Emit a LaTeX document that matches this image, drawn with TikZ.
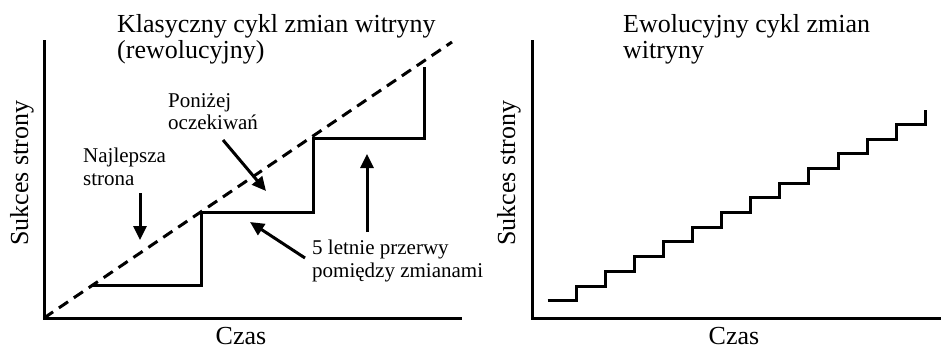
\documentclass[tikz,border=0pt]{standalone}
\usepackage{fontspec}
\setmainfont{Liberation Serif}
\usetikzlibrary{arrows.meta}
\begin{document}
\begin{tikzpicture}[x=1pt,y=-1pt,
  axis/.style={line width=3pt,line join=miter},
  stair/.style={line width=3pt,line join=miter},
  ideal/.style={line width=3pt,dash pattern=on 11pt off 7pt},
  pointer/.style={line width=3pt,-{Triangle[length=14pt,width=13pt]}},
  big/.style={font=\fontsize{26}{26.5}\selectfont,inner sep=0pt,align=left},
  note/.style={font=\fontsize{21}{22.5}\selectfont,inner sep=0pt,align=left,anchor=north west}]
\useasboundingbox (0,0) rectangle (942,348);
% left: classic cycle
\node[big,anchor=north west] (titleL) at (117,14) {Klasyczny cykl zmian witryny\\(rewolucyjny)};
\node[big,rotate=90] (yL) at (22,173) {Sukces strony};
\node[big,anchor=base] (xL) at (241,344) {Czas};
\coordinate (oL) at (44,318);
\draw[axis] (44,40) -- (oL) -- (462,318);
\draw[ideal] (oL) -- (452,42);
\draw[stair] (93.3,285.7) -- (201.7,285.7) -- (201.7,212.3) -- (313.3,212.3)
  -- (313.3,138.3) -- (424.3,138.3) -- (424.3,66.7);
\node[note] (best) at (83,148) {Najlepsza\\strona};
\node[note] (below) at (168,93) {Poniżej\\oczekiwań};
\node[note] (gap) at (312,240) {5 letnie przerwy\\pomiędzy zmianami};
\coordinate (best tail) at (140,193);
\coordinate (best tip) at (140,240);
\coordinate (below tail) at (223,140);
\coordinate (below tip) at (266,191);
\coordinate (gap tail) at (305,258);
\coordinate (gap tip) at (250,222);
\coordinate (gap2 tail) at (367,232);
\coordinate (gap2 tip) at (367,154);
\draw[pointer] (best tail) -- (best tip);
\draw[pointer] (below tail) -- (below tip);
\draw[pointer] (gap tail) -- (gap tip);
\draw[pointer] (gap2 tail) -- (gap2 tip);
% right: evolutionary cycle
\node[big,anchor=north west] (titleR) at (623,14) {Ewolucyjny cykl zmian\\witryny};
\node[big,rotate=90] (yR) at (509,173) {Sukces strony};
\node[big,anchor=base] (xR) at (734,344) {Czas};
\coordinate (oR) at (532,318);
\draw[axis] (532,40) -- (oR) -- (941,318);
\draw[stair] (547.7,300.7) foreach \i in {1,...,13} { -- ++(29.03,0) -- ++(0,-14.7) };
\end{tikzpicture}
\end{document}
